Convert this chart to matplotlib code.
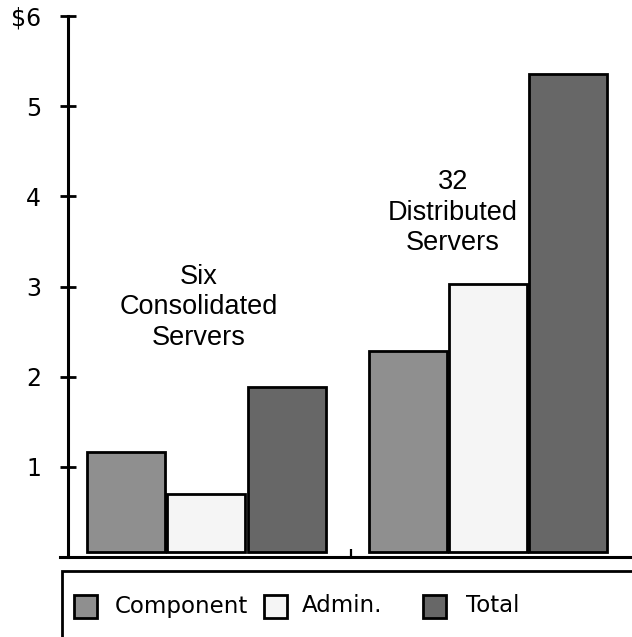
import numpy as np
import matplotlib
matplotlib.use("Agg")
import matplotlib.pyplot as plt
from matplotlib.patches import Rectangle

# cost per server group
series = ["Component", "Admin.", "Total"]
six_consolidated = [1.17, 0.70, 1.89]
distributed_32 = [2.29, 3.03, 5.36]
group_labels = ["Six\nConsolidated\nServers", "32\nDistributed\nServers"]
y_ticks = [1, 2, 3, 4, 5, 6]
y_tick_labels = ["1", "2", "3", "4", "5", "$6"]

colors = ["#8f8f8f", "#f5f5f5", "#676767"]
BASE = 0.06  # bars sit a little above the axis line
GAP = 0.5

W, H = 632, 637
fig = plt.figure(figsize=(W / 100, H / 100), dpi=100)
ax = fig.add_axes([60 / W, (H - 557) / H, (W - 60) / W, (557 - 16) / H])

x1 = np.arange(3)
x2 = x1 + 3 + GAP
for i in range(3):
    ax.bar([x1[i], x2[i]],
           [six_consolidated[i] - BASE, distributed_32[i] - BASE],
           bottom=BASE, width=0.97, color=colors[i],
           edgecolor="black", linewidth=2.0, label=series[i])

ax.set_xlim(-0.82, 6.29)
ax.set_ylim(0, 6)

for s in ["top", "right"]:
    ax.spines[s].set_visible(False)
ax.spines["left"].set_position(("data", -0.72))
ax.spines["left"].set_linewidth(2.2)
ax.spines["bottom"].set_linewidth(2.2)
ax.spines["left"].set_bounds(0, 6)

ax.set_yticks(y_ticks)
ax.set_yticklabels(y_tick_labels, fontsize=17, family="DejaVu Sans")
ax.tick_params(axis="y", direction="inout", length=11, width=2.0, pad=14)

sep = (x1[-1] + x2[0]) / 2 + 0.05
ax.set_xticks([sep])
ax.set_xticklabels([""])
ax.tick_params(axis="x", direction="in", length=6, width=1.6)

ax.text(np.mean(x1) - 0.09, 2.77, group_labels[0], ha="center", va="center",
        fontsize=19.5, family="Liberation Sans", linespacing=1.22)
ax.text(np.mean(x2) - 0.44, 3.82, group_labels[1], ha="center", va="center",
        fontsize=19.5, family="Liberation Sans", linespacing=1.22)

# legend box (only top and left edges fall inside the figure)
fig.add_artist(Rectangle((62 / W, -0.2), 1.0, (H - 571) / H + 0.2,
                         transform=fig.transFigure, fill=False,
                         edgecolor="black", linewidth=2.0))

# legend entries: swatch left edge and label left edge, in pixels
swatch_x = [74, 264, 423]
label_x = [115, 302, 466]
leg_y = 606
sw = 23
for i in range(3):
    fig.add_artist(Rectangle((swatch_x[i] / W, (H - leg_y - sw / 2) / H),
                             sw / W, sw / H, transform=fig.transFigure,
                             facecolor=colors[i], edgecolor="black",
                             linewidth=2.0))
    fig.text(label_x[i] / W, (H - leg_y) / H, series[i], ha="left",
             va="center", fontsize=16.5, family="DejaVu Sans")

fig.savefig("out.png", dpi=100)
